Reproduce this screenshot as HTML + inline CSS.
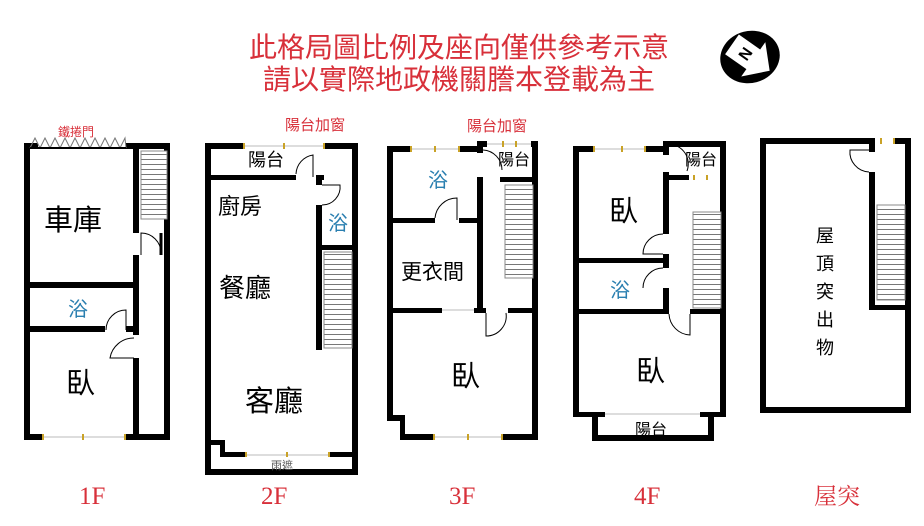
<!DOCTYPE html>
<html><head><meta charset="utf-8"><style>
body{margin:0;background:#fff}
svg{display:block}
.t{font-family:"Liberation Sans","Noto Sans CJK TC",sans-serif}
.r{fill:#d8303a}
.b{fill:#2a7fb0}
</style></head><body>
<svg width="924" height="526" viewBox="0 0 924 526" xmlns="http://www.w3.org/2000/svg">
<defs>
<pattern id="st" width="10" height="5" patternUnits="userSpaceOnUse"><rect width="40" height="5" fill="#fff"/><rect y="4" width="40" height="1" fill="#777"/></pattern>
</defs>
<g class="t">
<text x="459" y="57" font-size="28" text-anchor="middle" class="r">此格局圖比例及座向僅供參考示意</text>
<text x="459" y="89" font-size="28" text-anchor="middle" class="r">請以實際地政機關謄本登載為主</text>
</g>
<!-- compass -->
<g transform="translate(750,57) rotate(-15)">
<ellipse rx="30" ry="26" fill="#000"/>
<g transform="rotate(50)">
<path d="M-22,-12 L4,-12 L4,-21 L24,0 L4,21 L4,12 L-22,12 Z" fill="#fff"/>
<text x="-6" y="6" font-size="16" font-weight="bold" class="t" text-anchor="middle" transform="rotate(-90 -6 0)">N</text>
</g>
</g>

<g fill="#000">
<!-- 1F -->
<rect x="24" y="143" width="6" height="297"/>
<rect x="164" y="143" width="6" height="297"/>
<rect x="24" y="143" width="14" height="6"/><rect x="126" y="143" width="44" height="6"/>
<rect x="133" y="143" width="6" height="90"/><rect x="133" y="255" width="6" height="80"/><rect x="133" y="358" width="6" height="82"/>
<rect x="30" y="282" width="103" height="6"/>
<rect x="30" y="326" width="75" height="6"/><rect x="126" y="326" width="8" height="6"/>
<rect x="24" y="434" width="18" height="6"/><rect x="126" y="434" width="44" height="6"/>
<!-- 2F -->
<rect x="205" y="143" width="6" height="332"/><rect x="352" y="143" width="6" height="332"/>
<rect x="205" y="143" width="38" height="6"/><rect x="325" y="143" width="33" height="6"/>
<rect x="211" y="175" width="85" height="5"/><rect x="316" y="175" width="8" height="5"/>
<rect x="316" y="175" width="6" height="10"/><rect x="316" y="205" width="6" height="145"/>
<rect x="322" y="245" width="30" height="5"/>
<rect x="205" y="469" width="153" height="6"/>
<rect x="225" y="452" width="20" height="5"/><rect x="330" y="452" width="22" height="5"/>
<rect x="205" y="440" width="20" height="5"/><rect x="220" y="440" width="5" height="17"/>
<!-- 3F -->
<rect x="387" y="146" width="6" height="275"/><rect x="532" y="141" width="6" height="299"/>
<rect x="387" y="146" width="23" height="6"/><rect x="460" y="146" width="23" height="6"/>
<rect x="477" y="141" width="6" height="12"/><rect x="477" y="177" width="6" height="136"/>
<rect x="477" y="141" width="10" height="6"/><rect x="531" y="141" width="7" height="6"/>
<rect x="500" y="177" width="38" height="5"/>
<rect x="393" y="218" width="42" height="5"/><rect x="459" y="218" width="18" height="5"/>
<rect x="387" y="308" width="55" height="5"/><rect x="474" y="308" width="12" height="5"/><rect x="508" y="308" width="30" height="5"/>
<rect x="387" y="415" width="18" height="6"/><rect x="400" y="415" width="5" height="25"/>
<rect x="400" y="434" width="33" height="6"/><rect x="503" y="434" width="35" height="6"/>
<!-- 4F -->
<rect x="573" y="146" width="6" height="271"/><rect x="720" y="141" width="6" height="276"/>
<rect x="573" y="146" width="20" height="6"/><rect x="646" y="146" width="23" height="6"/>
<rect x="663" y="141" width="63" height="6"/>
<rect x="663" y="141" width="6" height="14"/><rect x="663" y="172" width="6" height="62"/><rect x="663" y="254" width="6" height="14"/><rect x="663" y="288" width="6" height="26"/>
<rect x="663" y="175" width="26" height="5"/>
<rect x="579" y="258" width="90" height="5"/>
<rect x="573" y="309" width="92" height="5"/><rect x="690" y="309" width="36" height="5"/>
<rect x="573" y="412" width="32" height="5"/><rect x="700" y="412" width="26" height="5"/>
<rect x="592" y="412" width="6" height="29"/><rect x="708" y="412" width="6" height="29"/>
<rect x="592" y="435" width="122" height="6"/>
<!-- roof -->
<rect x="760" y="138" width="6" height="275"/><rect x="905" y="138" width="6" height="275"/>
<rect x="760" y="138" width="115" height="6"/><rect x="893" y="138" width="18" height="6"/>
<rect x="760" y="407" width="151" height="6"/>
<rect x="869" y="138" width="6" height="14"/><rect x="869" y="172" width="6" height="138"/>
<rect x="869" y="305" width="40" height="5"/>
</g>
<!-- windows -->
<g fill="none" stroke="#bbb" stroke-width="1">
<line x1="42" y1="437" x2="126" y2="437"/><line x1="243" y1="146" x2="325" y2="146"/>
<line x1="245" y1="455" x2="330" y2="455"/><line x1="410" y1="149" x2="460" y2="149"/>
<line x1="433" y1="437" x2="503" y2="437"/><line x1="593" y1="149" x2="646" y2="149"/>
<line x1="605" y1="414" x2="700" y2="414"/><line x1="487" y1="144" x2="531" y2="144"/>
<line x1="442" y1="310" x2="474" y2="310"/>
</g>
<g fill="#c9a227">
<rect x="42" y="434" width="2" height="6"/><rect x="82" y="434" width="2" height="6"/><rect x="124" y="434" width="2" height="6"/>
<rect x="243" y="143" width="2" height="6"/><rect x="283" y="143" width="2" height="6"/><rect x="323" y="143" width="2" height="6"/>
<rect x="245" y="452" width="2" height="5"/><rect x="286" y="452" width="2" height="5"/><rect x="328" y="452" width="2" height="5"/>
<rect x="410" y="146" width="2" height="6"/><rect x="434" y="146" width="2" height="6"/><rect x="458" y="146" width="2" height="6"/>
<rect x="433" y="434" width="2" height="6"/><rect x="467" y="434" width="2" height="6"/><rect x="501" y="434" width="2" height="6"/>
<rect x="593" y="146" width="2" height="6"/><rect x="621" y="146" width="2" height="6"/><rect x="644" y="146" width="2" height="6"/>
<rect x="893" y="138" width="2" height="6"/><rect x="880" y="138" width="2" height="6"/>
<rect x="502" y="141" width="2" height="6"/><rect x="515" y="141" width="2" height="6"/>
<rect x="693" y="175" width="2" height="5"/><rect x="706" y="175" width="2" height="5"/>
</g>
<!-- stairs -->
<g stroke="#888" stroke-width="1">
<rect x="141" y="151" width="26" height="68" fill="url(#st)"/>
<rect x="324" y="252" width="28" height="96" fill="url(#st)"/>
<rect x="505" y="185" width="28" height="93" fill="url(#st)"/>
<rect x="693" y="212" width="28" height="96" fill="url(#st)"/>
<rect x="877" y="205" width="28" height="95" fill="url(#st)"/>
</g>
<!-- doors -->
<g fill="none" stroke="#000" stroke-width="1">
<path d="M141,255 L141,233 A20,20 0 0 1 161,253"/><line x1="161" y1="233" x2="161" y2="255" stroke-width="3"/>
<path d="M106,330 A20,20 0 0 1 126,310 L126,330"/>
<path d="M134,338 A24,24 0 0 0 110,358 L134,358"/>
<path d="M296,174 A20,20 0 0 1 313,155 L313,177"/>
<path d="M322,185 L340,185 A18,18 0 0 1 322,205"/>
<path d="M435,218 A22,22 0 0 1 457,198 L457,220"/>
<path d="M483,150 A20,20 0 0 1 502,170"/>
<path d="M486,313 L486,336 A20,20 0 0 0 506,313"/>
<path d="M663,234 A20,20 0 0 0 643,254 L663,254"/>
<path d="M663,268 A20,20 0 0 0 643,288"/>
<path d="M669,144 A20,20 0 0 1 687,171"/>
<path d="M669,314 A22,22 0 0 0 690,335 L690,314"/>
<path d="M869,150 L850,150 A20,20 0 0 0 869,172"/>
</g>
<!-- shutter -->
<polyline points="30,148 35,138 40,148 45,138 50,148 55,138 60,148 65,138 70,148 75,138 80,148 85,138 90,148 95,138 100,148 105,138 110,148 115,138 120,148 125,138 126,148" fill="none" stroke="#777" stroke-width="1"/>
<rect x="30" y="147" width="96" height="2" fill="#000"/>
<!-- labels -->
<g class="t" fill="#000">
<text x="44" y="230" font-size="29">車庫</text>
<text x="66" y="393" font-size="29">臥</text>
<text x="218" y="214" font-size="22">廚房</text>
<text x="219" y="297" font-size="26">餐廳</text>
<text x="245" y="411" font-size="29">客廳</text>
<text x="248" y="166" font-size="18">陽台</text>
<text x="401" y="279" font-size="21">更衣間</text>
<text x="451" y="386" font-size="29">臥</text>
<text x="498" y="165" font-size="16">陽台</text>
<text x="609" y="221" font-size="29">臥</text>
<text x="636" y="381" font-size="29">臥</text>
<text x="685" y="165" font-size="16">陽台</text>
<text x="635" y="435" font-size="16">陽台</text>
<text x="271" y="469" font-size="11" fill="#555">雨遮</text>
<g font-size="18"><text x="816" y="242">屋</text><text x="816" y="270">頂</text><text x="816" y="298">突</text><text x="816" y="326">出</text><text x="816" y="354">物</text></g>
</g>
<g class="t b">
<text x="68" y="316" font-size="20" class="b">浴</text>
<text x="328" y="230" font-size="20" class="b">浴</text>
<text x="428" y="187" font-size="20" class="b">浴</text>
<text x="610" y="297" font-size="20" class="b">浴</text>
</g>
<g class="t r">
<text x="58" y="136" font-size="12" class="r">鐵捲門</text>
<text x="285" y="130" font-size="15" class="r">陽台加窗</text>
<text x="467" y="131" font-size="15" class="r">陽台加窗</text>
</g>
<g font-family="Liberation Serif,serif" font-size="25" class="r">
<text x="79" y="504" class="r">1F</text>
<text x="261" y="504" class="r">2F</text>
<text x="449" y="504" class="r">3F</text>
<text x="634" y="504" class="r">4F</text>
</g>
<text x="814" y="504" font-size="23" class="r" font-family="Liberation Serif,Noto Serif CJK SC,serif">屋突</text>
</svg>
</body></html>
